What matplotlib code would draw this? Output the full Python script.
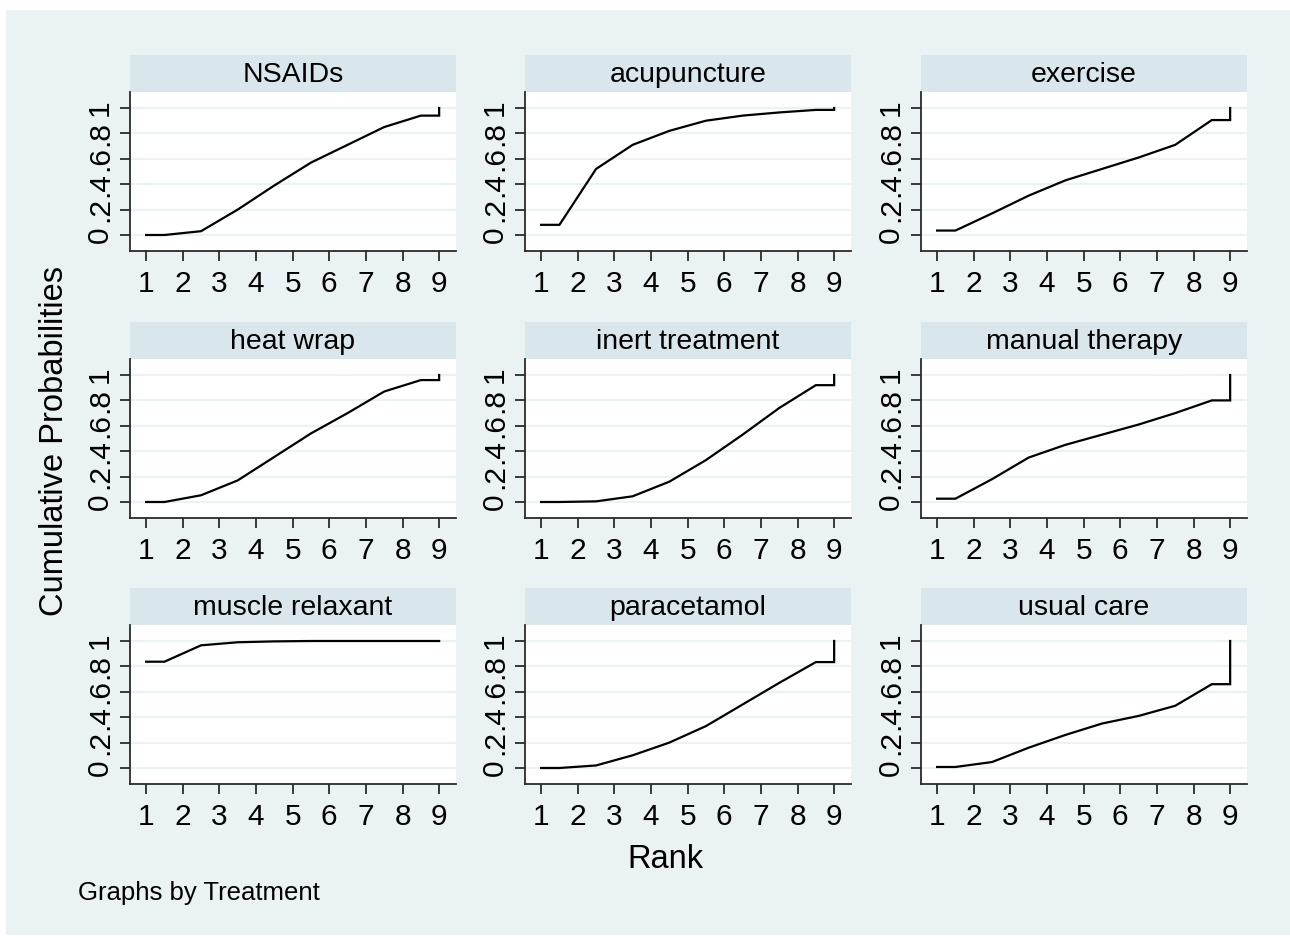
import numpy as np
import matplotlib
matplotlib.use("Agg")
import matplotlib.pyplot as plt
from matplotlib.patches import Rectangle

plt.rcParams['font.family'] = ['Liberation Sans', 'DejaVu Sans']

# cumulative probability of being ranked 1..9
treatments = ['NSAIDs', 'acupuncture', 'exercise',
              'heat wrap', 'inert treatment', 'manual therapy',
              'muscle relaxant', 'paracetamol', 'usual care']
ranks = [1, 2, 3, 4, 5, 6, 7, 8, 9]
nsaids = [0.0, 0.03, 0.20, 0.39, 0.57, 0.71, 0.85, 0.94, 1.0]
acupuncture = [0.08, 0.52, 0.71, 0.82, 0.90, 0.94, 0.965, 0.985, 1.0]
exercise = [0.035, 0.17, 0.31, 0.43, 0.52, 0.61, 0.71, 0.905, 1.0]
heat_wrap = [0.0, 0.053, 0.17, 0.355, 0.54, 0.70, 0.87, 0.96, 1.0]
inert = [0.0, 0.005, 0.045, 0.16, 0.33, 0.53, 0.74, 0.92, 1.0]
manual = [0.026, 0.18, 0.35, 0.45, 0.53, 0.61, 0.70, 0.80, 1.0]
muscle = [0.837, 0.966, 0.99, 0.997, 1.0, 1.0, 1.0, 1.0, 1.0]
paracetamol = [0.0, 0.02, 0.10, 0.20, 0.33, 0.50, 0.67, 0.834, 1.0]
usual_care = [0.008, 0.047, 0.16, 0.26, 0.35, 0.41, 0.49, 0.66, 1.0]
series = [nsaids, acupuncture, exercise, heat_wrap, inert, manual,
          muscle, paracetamol, usual_care]

W, H = 1290, 938
bg = '#eaf2f3'
strip_col = '#d9e6eb'

fig = plt.figure(figsize=(W / 100, H / 100), dpi=100, facecolor='white')
fig.patches.append(Rectangle((6 / W, 3 / H), 1 - 6 / W, 1 - 13 / H,
                             transform=fig.transFigure, facecolor=bg,
                             edgecolor='none', zorder=-10))

col_left = [130, 525, 921]
strip_top = [55, 322, 588]
pw, strip_h, plot_h = 326, 37, 159


def step_path(c):
    # line runs between rank midpoints, flat at the ends, closes up to 1
    r = np.array(ranks, dtype=float)
    xs = np.concatenate([[r[0]], r[:-1] + 0.5, [r[-1], r[-1]]])
    ys = np.concatenate([[c[0]], c[:-1], [c[-2], c[-1]]])
    return xs, ys


for k, (name, c) in enumerate(zip(treatments, series)):
    row, col = divmod(k, 3)
    x0 = col_left[col]
    top = strip_top[row]
    sax = fig.add_axes([x0 / W, 1 - (top + strip_h) / H, pw / W, strip_h / H])
    sax.set_facecolor(strip_col)
    sax.set_xticks([])
    sax.set_yticks([])
    for s in sax.spines.values():
        s.set_visible(False)
    sax.text(0.5, 0.47, name, ha='center', va='center', fontsize=20.5,
             transform=sax.transAxes)

    ax = fig.add_axes([x0 / W, 1 - (top + strip_h + plot_h) / H, pw / W, plot_h / H])
    ax.set_facecolor('white')
    xs, ys = step_path(c)
    ax.plot(xs, ys, color='black', lw=1.6, solid_joinstyle='miter', zorder=3)
    ax.set_xlim(0.56, 9.46)
    ax.set_ylim(-0.126, 1.126)
    ax.set_xticks(ranks)
    ax.set_yticks([0, 0.2, 0.4, 0.6, 0.8, 1])
    ax.set_yticklabels(['0', '.2', '.4', '.6', '.8', '1'])
    ax.grid(axis='y', color=bg, lw=1.6)
    ax.set_axisbelow(True)
    for s in ['top', 'right']:
        ax.spines[s].set_visible(False)
    for s in ['left', 'bottom']:
        ax.spines[s].set_color('#2a2a2a')
        ax.spines[s].set_linewidth(1.3)
    ax.tick_params(axis='both', length=7.5, width=1.3, color='#2a2a2a',
                   labelsize=21.5)
    ax.tick_params(axis='x', pad=6)
    ax.tick_params(axis='y', labelrotation=90, pad=4)
    for lab in ax.get_yticklabels():
        lab.set_va('center')

fig.text(665 / W, 1 - 859 / H, 'Rank', ha='center', va='center', fontsize=23.5)
fig.text(55 / W, 1 - 441 / H, 'Cumulative Probabilities', ha='center',
         va='center', rotation=90, fontsize=23.5)
fig.text(78 / W, 1 - 893 / H, 'Graphs by Treatment', ha='left',
         va='center', fontsize=18.5)

fig.savefig('out.png', dpi=100, facecolor='white')
